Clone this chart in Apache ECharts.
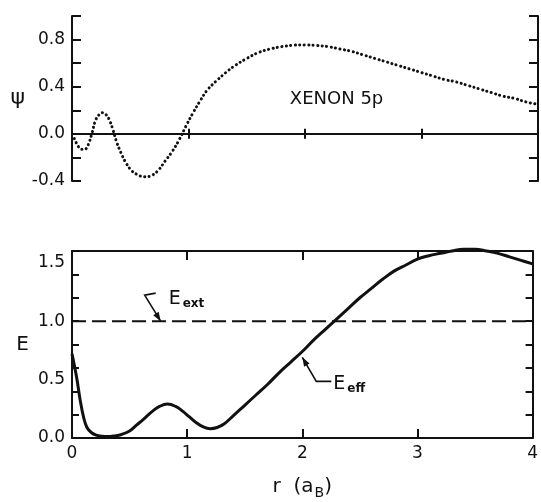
<!DOCTYPE html>
<html>
<head>
<meta charset="utf-8">
<script src="https://cdn.jsdelivr.net/npm/echarts@6/dist/echarts.min.js"></script>
<style>
    html, body { margin: 0; padding: 0; background: #fff; }
    #main { width: 541px; height: 502px; }
</style>
</head>
<body>
<div id="main"></div>
<script>
    // psi (XENON 5p)
    var psiR = [0.02, 0.05, 0.08, 0.11, 0.14, 0.17, 0.20, 0.23, 0.26, 0.29, 0.32, 0.35, 0.38, 0.42, 0.46,
        0.51, 0.56, 0.62, 0.68, 0.74, 0.80, 0.86, 0.92, 0.98, 1.04, 1.10, 1.16, 1.24, 1.32, 1.40,
        1.50, 1.60, 1.70, 1.80, 1.90, 2.00, 2.10, 2.20, 2.30, 2.40, 2.50, 2.60, 2.70, 2.80, 2.90,
        3.00, 3.10, 3.20, 3.30, 3.40, 3.50, 3.60, 3.70, 3.80, 3.90, 4.00];
    var psiVal = [-0.04, -0.10, -0.13, -0.13, -0.09, 0.00, 0.11, 0.16, 0.18, 0.165, 0.12, 0.04, -0.06, -0.16, -0.24,
        -0.31, -0.345, -0.365, -0.355, -0.31, -0.23, -0.15, -0.05, 0.07, 0.18, 0.28, 0.37, 0.45, 0.52, 0.58,
        0.64, 0.69, 0.72, 0.74, 0.752, 0.755, 0.75, 0.74, 0.72, 0.70, 0.67, 0.64, 0.61, 0.58, 0.55,
        0.52, 0.49, 0.46, 0.44, 0.41, 0.38, 0.35, 0.32, 0.30, 0.27, 0.25];

    // E_eff, lower panel
    var effR = [0, 0.04, 0.07, 0.10, 0.13, 0.17, 0.21, 0.26, 0.31, 0.37, 0.43, 0.50, 0.56, 0.62, 0.70,
        0.76, 0.83, 0.90, 0.96, 1.02, 1.08, 1.14, 1.20, 1.26, 1.32, 1.40, 1.50, 1.60, 1.70, 1.80,
        1.90, 2.00, 2.10, 2.20, 2.30, 2.40, 2.50, 2.60, 2.70, 2.80, 2.90, 3.00, 3.10, 3.20, 3.30,
        3.40, 3.50, 3.60, 3.70, 3.80, 3.90, 4.00];
    var effVal = [0.72, 0.52, 0.33, 0.18, 0.09, 0.045, 0.025, 0.015, 0.012, 0.018, 0.03, 0.06, 0.11, 0.16, 0.23,
        0.27, 0.29, 0.27, 0.23, 0.18, 0.13, 0.095, 0.08, 0.09, 0.12, 0.19, 0.28, 0.37, 0.46, 0.56,
        0.65, 0.74, 0.84, 0.93, 1.02, 1.11, 1.20, 1.28, 1.36, 1.43, 1.48, 1.53, 1.56, 1.58, 1.60,
        1.615, 1.615, 1.60, 1.58, 1.55, 1.52, 1.49];

    // E_ext
    var extR = [0, 4];
    var extVal = [1.0, 1.0];

    var psiLabels = [-0.4, 0.0, 0.4, 0.8];
    var eLabels = [0.0, 0.5, 1.0, 1.5];

    var ink = '#111';
    var FONT = 'DejaVu Sans';

    function zip(a, b) {
        return a.map(function (x, i) { return [x, b[i]]; });
    }
    function pick(list) {
        return function (v) {
            for (var i = 0; i < list.length; i++) {
                if (Math.abs(list[i] - v) < 1e-6) return v.toFixed(1);
            }
            return '';
        };
    }

    var lineSt = {color: ink, width: 2};
    var tickStyle = {color: ink, width: 2};
    var noSplit = {show: false};
    var labelSt = {fontSize: 17, color: ink, margin: 7, fontFamily: FONT};

    var chart = echarts.init(document.getElementById('main'));

    var option = {
        animation: false,
        backgroundColor: '#fff',
        textStyle: {fontFamily: FONT, color: ink},
        grid: [
            {left: 72, right: 3, top: 16, height: 165},
            {left: 72, right: 2, top: 251, height: 187}
        ],
        xAxis: [
            {gridIndex: 0, type: 'value', min: 0, max: 4, interval: 1, position: 'bottom',
                axisLine: {onZero: true, lineStyle: lineSt},
                axisTick: {inside: true, length: 5, lineStyle: tickStyle},
                axisLabel: {show: false}, splitLine: noSplit},
            {gridIndex: 0, type: 'value', min: 0, max: 4, interval: 1, position: 'top',
                axisLine: {onZero: true, lineStyle: lineSt},
                axisTick: {inside: true, length: 5, lineStyle: tickStyle},
                axisLabel: {show: false}, splitLine: noSplit},
            {gridIndex: 1, type: 'value', min: 0, max: 4, interval: 1, position: 'bottom',
                axisLine: {onZero: false, lineStyle: lineSt},
                axisTick: {inside: true, length: 9, lineStyle: tickStyle},
                axisLabel: labelSt,
                splitLine: noSplit,
                name: '{n|r  (a}{s|B}{n|)}',
                nameLocation: 'middle',
                nameGap: 36,
                nameTextStyle: {
                    rich: {
                        n: {fontSize: 20, color: ink, fontFamily: FONT},
                        s: {fontSize: 14, color: ink, fontFamily: FONT, padding: [12, 0, 0, 1]}
                    }
                }},
            {gridIndex: 1, type: 'value', min: 0, max: 4, interval: 1, position: 'top',
                axisLine: {onZero: false, lineStyle: lineSt},
                axisTick: {inside: true, length: 9, lineStyle: tickStyle},
                axisLabel: {show: false}, splitLine: noSplit}
        ],
        yAxis: [
            {gridIndex: 0, type: 'value', min: -0.4, max: 1.0, interval: 0.2, position: 'left',
                axisLine: {show: true, onZero: false, lineStyle: lineSt},
                axisTick: {show: true, inside: true, length: 9, lineStyle: tickStyle},
                axisLabel: Object.assign({formatter: pick(psiLabels)}, labelSt),
                splitLine: noSplit,
                name: 'ψ', nameLocation: 'middle', nameRotate: 0, nameGap: 47,
                nameTextStyle: {fontSize: 22, color: ink, fontFamily: FONT}},
            {gridIndex: 0, type: 'value', min: -0.4, max: 1.0, interval: 0.2, position: 'right',
                axisLine: {show: true, onZero: false, lineStyle: lineSt},
                axisTick: {show: true, inside: true, length: 9, lineStyle: tickStyle},
                axisLabel: {show: false}, splitLine: noSplit},
            {gridIndex: 1, type: 'value', min: 0, max: 1.6, interval: 0.5, position: 'left',
                axisLine: {show: true, onZero: false, lineStyle: lineSt},
                axisTick: {show: false},
                axisLabel: Object.assign({formatter: pick(eLabels)}, labelSt),
                splitLine: noSplit,
                name: 'E', nameLocation: 'middle', nameRotate: 0, nameGap: 43,
                nameTextStyle: {fontSize: 20, color: ink, fontFamily: FONT}},
            {gridIndex: 1, type: 'value', min: 0, max: 1.6, interval: 0.2, position: 'left',
                axisLine: {show: false, onZero: false},
                axisTick: {show: true, inside: true, length: 7, lineStyle: tickStyle},
                axisLabel: {show: false}, splitLine: noSplit},
            {gridIndex: 1, type: 'value', min: 0, max: 1.6, interval: 0.2, position: 'right',
                axisLine: {show: true, onZero: false, lineStyle: lineSt},
                axisTick: {show: true, inside: true, length: 7, lineStyle: tickStyle},
                axisLabel: {show: false}, splitLine: noSplit}
        ],
        series: [
            {
                name: 'psi', type: 'line', xAxisIndex: 0, yAxisIndex: 0,
                data: zip(psiR, psiVal), smooth: 0.4, showSymbol: false,
                lineStyle: {color: ink, width: 3, type: [0.1, 4.4], cap: 'round'}
            },
            {
                name: 'E_ext', type: 'line', xAxisIndex: 2, yAxisIndex: 2,
                data: zip(extR, extVal), showSymbol: false,
                lineStyle: {color: ink, width: 2, type: [14, 6]}
            },
            {
                name: 'E_eff', type: 'line', xAxisIndex: 2, yAxisIndex: 2,
                data: zip(effR, effVal), smooth: 0.4, showSymbol: false, clip: false,
                lineStyle: {color: ink, width: 3}
            }
        ]
    };

    chart.setOption(option);

    // 注释：引线 + 箭头 + 文字
    function arrowHead(from, tip, len, half) {
        var dx = tip[0] - from[0], dy = tip[1] - from[1];
        var d = Math.sqrt(dx * dx + dy * dy);
        var ux = dx / d, uy = dy / d;
        var bx = tip[0] - ux * len, by = tip[1] - uy * len;
        return [tip, [bx - uy * half, by + ux * half], [bx + uy * half, by - ux * half]];
    }

    var fE = {xAxisIndex: 2, yAxisIndex: 2};
    var fP = {xAxisIndex: 0, yAxisIndex: 0};
    var tipExt = chart.convertToPixel(fE, [0.77, 1.0]);
    var tipEff = chart.convertToPixel(fE, [2.0, 0.69]);
    var xenonPos = chart.convertToPixel(fP, [1.87, 0.29]);

    var extKnee = [tipExt[0] - 16, tipExt[1] - 26];
    var extEnd = [tipExt[0] - 5, tipExt[1] - 28];
    var effKnee = [tipEff[0] + 14, tipEff[1] + 24];
    var effEnd = [tipEff[0] + 29, tipEff[1] + 24];

    var rich = {
        e: {fontSize: 19, fill: ink, fontFamily: FONT},
        s: {fontSize: 12, fill: ink, fontFamily: FONT, fontWeight: 'bold', padding: [10, 0, 0, 2]}
    };

    chart.setOption({
        graphic: [
            {type: 'polyline', shape: {points: [extEnd, extKnee, tipExt]}, style: {stroke: ink, lineWidth: 1.6, fill: null}},
            {type: 'polygon', shape: {points: arrowHead(extKnee, tipExt, 9, 3.2)}, style: {fill: ink}},
            {type: 'text', x: tipExt[0] + 8, y: tipExt[1] - 33,
                style: {text: '{e|E}{s|ext}', rich: rich, verticalAlign: 'top'}},
            {type: 'polyline', shape: {points: [effEnd, effKnee, tipEff]}, style: {stroke: ink, lineWidth: 1.6, fill: null}},
            {type: 'polygon', shape: {points: arrowHead(effKnee, tipEff, 9, 3.2)}, style: {fill: ink}},
            {type: 'text', x: tipEff[0] + 31, y: tipEff[1] + 16,
                style: {text: '{e|E}{s|eff}', rich: rich, verticalAlign: 'top'}},
            {type: 'text', x: xenonPos[0], y: xenonPos[1],
                style: {text: 'XENON 5p', fontSize: 18, fontFamily: FONT, fill: ink, verticalAlign: 'middle'}}
        ]
    });
</script>
</body>
</html>
